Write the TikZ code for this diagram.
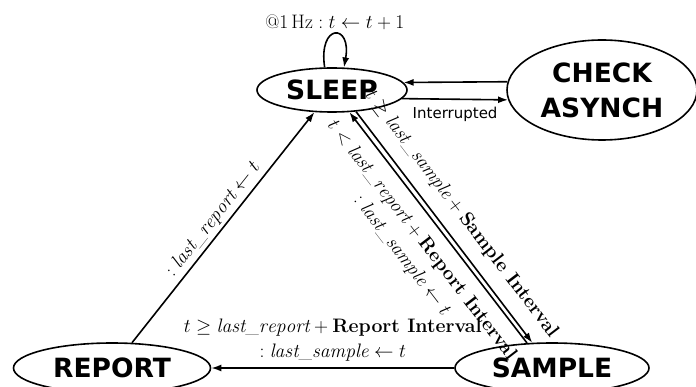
\RequirePackage{fix-cm}
\documentclass[tikz,border=0pt]{standalone}
\usepackage{fontspec}
\newfontfamily\statefont{DejaVu Sans}
\usetikzlibrary{shapes.geometric,arrows.meta}
\begin{document}
\begin{tikzpicture}[x=1pt,y=-1pt,
  state/.style={draw, ellipse, line width=1.6pt, inner sep=0pt, align=center,
    font=\statefont\bfseries\fontsize{26.5}{35}\selectfont},
  edge/.style={line width=1.6pt, -{Latex[length=10pt,width=7pt]}},
  lab/.style={font=\fontsize{19.5}{25}\selectfont, align=center},
  smalllab/.style={font=\statefont\fontsize{15}{18}\selectfont},
]
\useasboundingbox (0,0) rectangle (696,387);
\node[state, minimum width=150pt, minimum height=44pt] (sleep) at (332,90) {SLEEP};
\node[state, minimum width=190pt, minimum height=100pt] (check) at (602,90) {CHECK\\ASYNCH};
\node[state, minimum width=197pt, minimum height=50pt] (report) at (112,368) {REPORT};
\node[state, minimum width=194pt, minimum height=50pt] (sample) at (552,368) {SAMPLE};

\draw[edge] (sleep.108) .. controls (318,23) and (352,23) .. (sleep.62)
  node[lab, pos=0.5, above] {$@1\,\mathrm{Hz} : t \leftarrow t+1$};
\draw[edge] (check.175) -- (sleep.6);
\draw[edge] (sleep.-7) -- node[smalllab, below=4pt] {Interrupted} (check.186);
\draw[edge] (report) -- node[lab, sloped, above] {$: \mathit{last\_report} \leftarrow t$} (sleep);
\draw[edge] (sample) -- node[lab, above=3pt]
  {$t \geq \mathit{last\_report} + \textbf{Report Interval}$\\$: \mathit{last\_sample} \leftarrow t$} (report);
\draw[edge] (sleep.-42) -- node[lab, sloped, above=9pt]
  {$t \geq \mathit{last\_sample} + \textbf{Sample Interval}$} (sample.128);
\draw[edge] (sample.135) -- node[lab, sloped, below=8pt]
  {$t < \mathit{last\_report} + \textbf{Report Interval}$\\$: \mathit{last\_sample} \leftarrow t$} (sleep.-52);
\end{tikzpicture}
\end{document}
